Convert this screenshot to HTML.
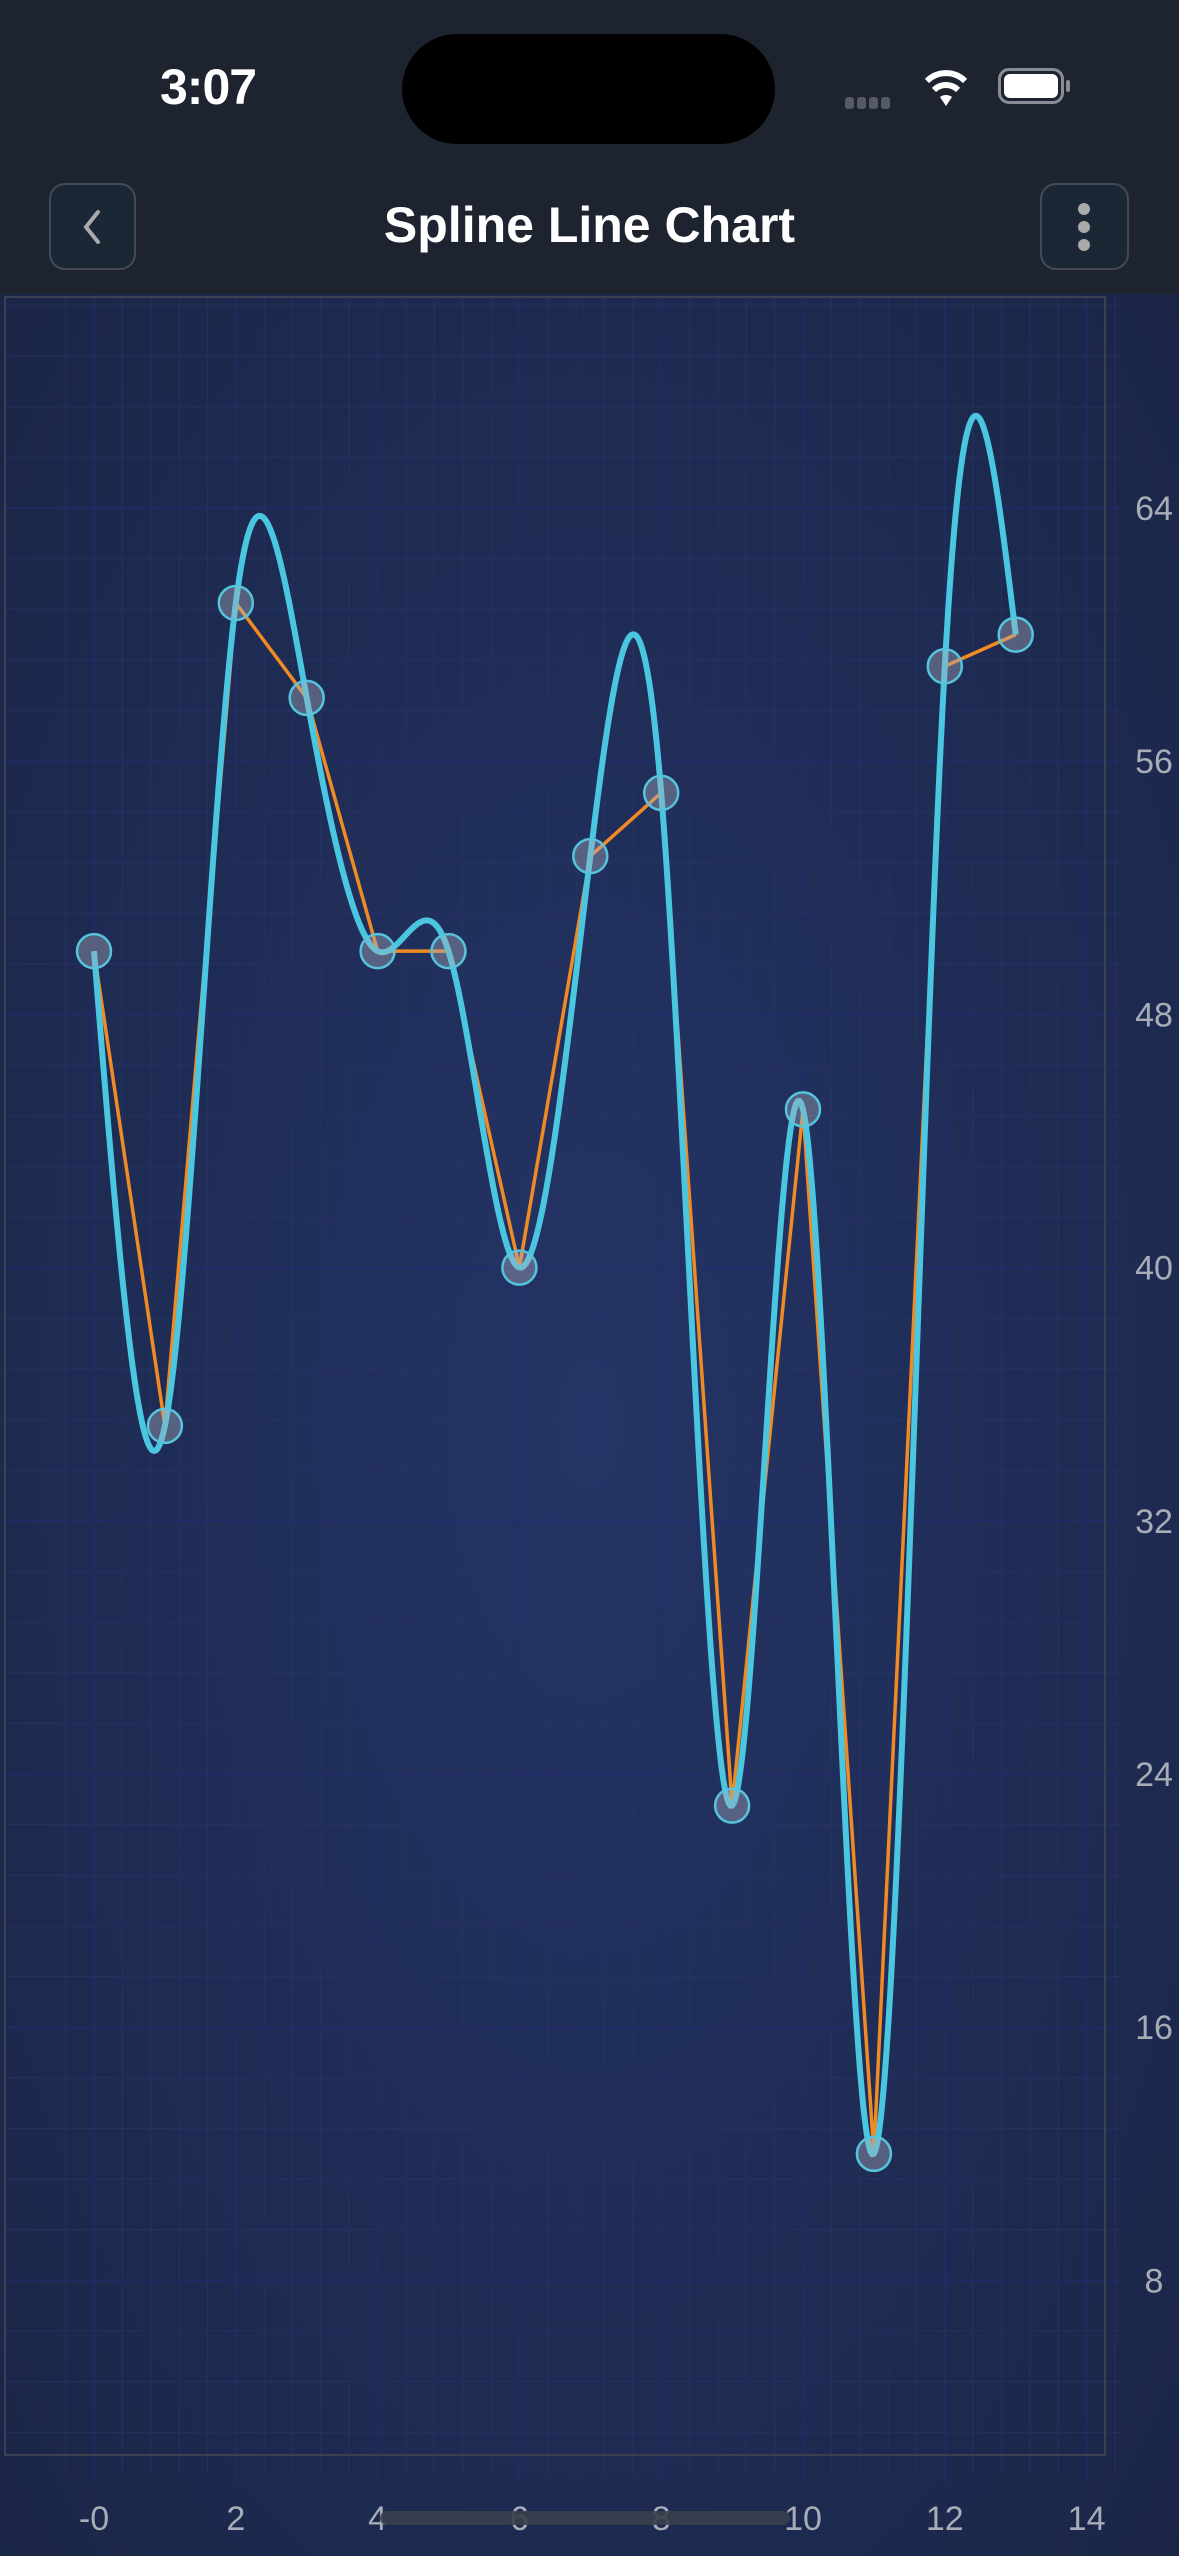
<!DOCTYPE html>
<html><head><meta charset="utf-8">
<style>
html,body{margin:0;padding:0;width:1179px;height:2556px;overflow:hidden;background:#1e2330;font-family:"Liberation Sans",sans-serif;}
#hdr{position:absolute;left:0;top:0;width:1179px;height:294px;background:#1e2330;}
#chart{position:absolute;left:0;top:294px;}
</style></head><body>
<div id="hdr">
  <div style="position:absolute;left:160px;top:58px;font-size:50px;font-weight:bold;color:#fff;letter-spacing:-1px;">3:07</div>
  <div style="position:absolute;left:402px;top:34px;width:373px;height:110px;border-radius:55px;background:#000;"></div>
  <div style="position:absolute;left:845px;top:96px;">
    <span style="display:inline-block;width:9px;height:12px;border-radius:3px;background:#555a66;margin-right:3px"></span><span style="display:inline-block;width:9px;height:12px;border-radius:3px;background:#555a66;margin-right:3px"></span><span style="display:inline-block;width:9px;height:12px;border-radius:3px;background:#555a66;margin-right:3px"></span><span style="display:inline-block;width:9px;height:12px;border-radius:3px;background:#555a66;"></span>
  </div>
  <svg style="position:absolute;left:922px;top:66px" width="48" height="42" viewBox="0 0 48 42"><path d="M24 40 L30 31 A10 10 0 0 0 18 31 Z" fill="#fff"/><path d="M12 24 A17 17 0 0 1 36 24" stroke="#fff" stroke-width="6" fill="none"/><path d="M5 15 A27 27 0 0 1 43 15" stroke="#fff" stroke-width="6" fill="none"/></svg>
  <div style="position:absolute;left:998px;top:68px;width:66px;height:36px;border:3px solid #888c94;border-radius:11px;box-sizing:border-box;padding:3px;"><div style="width:100%;height:100%;background:#fff;border-radius:6px"></div></div>
  <div style="position:absolute;left:1066px;top:80px;width:4px;height:12px;background:#888c94;border-radius:2px"></div>
  <div style="position:absolute;left:49px;top:183px;width:87px;height:87px;border:2px solid #444a55;border-radius:16px;box-sizing:border-box;background:#1c2736;">
    <svg width="83" height="83" viewBox="0 0 83 83"><path d="M47 27 L35 42 L47 57" stroke="#aaa" stroke-width="4" fill="none" stroke-linecap="round"/></svg>
  </div>
  <div style="position:absolute;left:0;width:1179px;top:196px;text-align:center;font-size:50px;font-weight:bold;color:#fff;">Spline Line Chart</div>
  <div style="position:absolute;left:1040px;top:183px;width:89px;height:87px;border:2px solid #444a55;border-radius:16px;box-sizing:border-box;background:#1c2736;">
    <svg width="85" height="83" viewBox="0 0 85 83"><circle cx="42" cy="24" r="6" fill="#aaa"/><circle cx="42" cy="42" r="6" fill="#aaa"/><circle cx="42" cy="60" r="6" fill="#aaa"/></svg>
  </div>
</div>
<svg id="chart" width="1179" height="2262">
<defs>
<radialGradient id="bg" cx="0.5" cy="0.5" r="0.75"><stop offset="0" stop-color="#243466"/><stop offset="1" stop-color="#1a2545"/></radialGradient>
</defs>
<rect x="0" y="0" width="1179" height="2262" fill="url(#bg)"/>
<g id="grid"></g>
<rect x="5" y="3" width="1100" height="2158" fill="none" stroke="#3d4050" stroke-width="2"/>
<g id="series"></g>
<g id="labels"></g>
<rect x="380" y="2217" width="410" height="14" rx="7" fill="#3a3f4c" opacity="0.9"/>
</svg>
<script>
const xValues=[0,1,2,3,4,5,6,7,8,9,10,11,12,13];
const yValues=[50,35,61,58,50,50,40,53,55,23,45,12,59,60];
const xTicks=[0,2,4,6,8,10,12,14];
const xTickLabels=["-0","2","4","6","8","10","12","14"];
const yTicks=[8,16,24,32,40,48,56,64];
const NS="http://www.w3.org/2000/svg";
const X=v=>94+v*70.9;
const Y=v=>214-(v-64)*31.65;
function mk(t,a,p){const e=document.createElementNS(NS,t);for(const k in a)e.setAttribute(k,a[k]);p.appendChild(e);return e;}
const grid=document.getElementById('grid'),ser=document.getElementById('series'),lab=document.getElementById('labels');
for(let v=-0.4;v<=14.8;v+=0.4){const major=Math.abs(v/2-Math.round(v/2))<0.01;
 const l=mk('line',{x1:X(v),x2:X(v),y1:3,y2:major?2190:2180,stroke:major?'#232c70':'#2a3468','stroke-width':major?2:1.2,opacity:0.6},grid);
 
 }
for(let v=0;v<=70.4;v+=1.6){const y=Y(v);if(y<3||y>2161)continue;const major=Math.abs(v/8-Math.round(v/8))<0.01;
 const l=mk('line',{x1:5,x2:1120,y1:y,y2:y,stroke:major?'#232c70':'#2a3468','stroke-width':major?2:1.2,opacity:0.6},grid);
 
 }
xTicks.forEach((t,i)=>{const e=mk('text',{x:X(t),y:2236,'text-anchor':'middle','font-size':34,fill:'#a8acb6','font-family':'Liberation Sans, sans-serif'},lab);e.textContent=xTickLabels[i];
 
 });
yTicks.forEach(t=>{const e=mk('text',{x:1154,y:Y(t)+12,'text-anchor':'middle','font-size':34,fill:'#a8acb6','font-family':'Liberation Sans, sans-serif'},lab);e.textContent=String(t);
 
 });
function spline(xs,ys){const n=xs.length;const h=[],al=[],l=[1],mu=[0],z=[0],c=new Array(n).fill(0),b=[],d=[];
 for(let i=0;i<n-1;i++)h[i]=xs[i+1]-xs[i];
 for(let i=1;i<n-1;i++)al[i]=3/h[i]*(ys[i+1]-ys[i])-3/h[i-1]*(ys[i]-ys[i-1]);
 for(let i=1;i<n-1;i++){l[i]=2*(xs[i+1]-xs[i-1])-h[i-1]*mu[i-1];mu[i]=h[i]/l[i];z[i]=(al[i]-h[i-1]*z[i-1])/l[i];}
 l[n-1]=1;z[n-1]=0;
 for(let j=n-2;j>=0;j--){c[j]=z[j]-mu[j]*c[j+1];b[j]=(ys[j+1]-ys[j])/h[j]-h[j]*(c[j+1]+2*c[j])/3;d[j]=(c[j+1]-c[j])/(3*h[j]);}
 const pts=[];for(let j=0;j<n-1;j++){for(let s=0;s<40;s++){const t=s/40*h[j];pts.push([xs[j]+t,ys[j]+b[j]*t+c[j]*t*t+d[j]*t*t*t]);}}
 pts.push([xs[n-1],ys[n-1]]);return pts;}
const lin=mk('polyline',{points:xValues.map((x,i)=>X(x)+','+Y(yValues[i])).join(' '),fill:'none',stroke:'#f08a24','stroke-width':3.5,'stroke-linejoin':'round'},ser);


const sp=mk('polyline',{points:spline(xValues,yValues).map(p=>X(p[0])+','+Y(p[1])).join(' '),fill:'none',stroke:'#4ac6e0','stroke-width':6,'stroke-linejoin':'round'},ser);


xValues.forEach((x,i)=>{const c=mk('circle',{cx:X(x),cy:Y(yValues[i]),r:17,fill:'rgba(170,175,190,0.4)',stroke:'#55c4dc','stroke-width':2.5},ser);
 
 });
</script>
</body></html>
